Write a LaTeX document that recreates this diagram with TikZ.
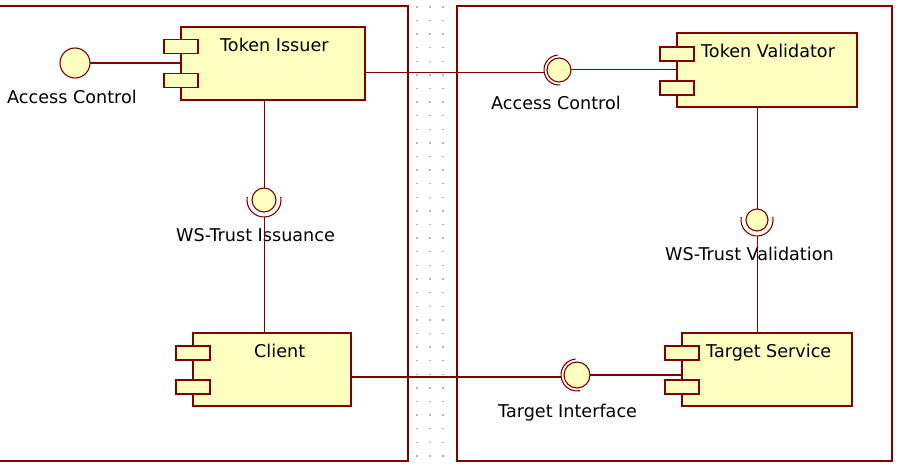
\documentclass[tikz,border=0pt]{standalone}
\usepackage{fontspec}
\setmainfont{DejaVu Sans}
\usetikzlibrary{calc}
\definecolor{umlred}{HTML}{800000}
\definecolor{umlfill}{HTML}{FFFFC0}
\definecolor{griddot}{HTML}{B4B4B4}
\begin{document}
\begin{tikzpicture}[x=1pt,y=-1pt,
  comp/.style={draw=umlred, fill=umlfill, line width=1.3pt, rectangle, inner sep=0pt, outer sep=0pt},
  port/.style={draw=umlred, fill=umlfill, line width=1.1pt, rectangle, minimum width=34pt, minimum height=14pt, inner sep=0pt},
  ball/.style={draw=umlred, fill=umlfill, line width=1.1pt, circle, inner sep=0pt, outer sep=0pt},
  lbl/.style={anchor=base west, inner sep=0pt, font=\fontsize{17.6}{20}\selectfont, text=black},
  conn/.style={draw=umlred, line width=1pt},
  thickconn/.style={draw=umlred, line width=2pt},
  sock/.style={draw=umlred, line width=1.1pt},
  frame/.style={draw=umlred, line width=1.2pt}]
\useasboundingbox (0,0) rectangle (898,468);
% grid dots between frames
\foreach \gx in {417,430,443}{
  \foreach \gy in {7,20.6,...,460}{
    \fill[griddot] (\gx-0.7,\gy-0.7) rectangle (\gx+0.7,\gy+0.7);
  }
}
% frames
\draw[frame] (0,6) -- (408,6) -- (408,461) -- (0,461);
\draw[frame, line width=1.6pt] (457,6) rectangle (892,461);
% components
\node[comp, minimum width=184pt, minimum height=73pt] (ti) at (273,63.5) {};
\node[comp, minimum width=180pt, minimum height=74pt] (tv) at (767,70) {};
\node[comp, minimum width=158pt, minimum height=73pt] (cl) at (272,369.5) {};
\node[comp, minimum width=170pt, minimum height=73pt] (ts) at (767,369.5) {};
\foreach \c/\a/\b in {ti/19.5/53.5, tv/21/55, cl/20/54, ts/20/54}{
  \node[port] (\c-p1) at ($(\c.north west)+(0,\a)$) {};
  \node[port] (\c-p2) at ($(\c.north west)+(0,\b)$) {};
}
\node[lbl] (ti-l) at (220,52) {Token Issuer};
\node[lbl] (tv-l) at (701,58) {Token Validator};
\node[lbl] (cl-l) at (254,357) {Client};
\node[lbl] (ts-l) at (706,357) {Target Service};
% interfaces
\node[ball, minimum size=30pt] (ac1) at (75,63) {};
\node[ball, minimum size=24pt] (ac2) at (559,70) {};
\node[ball, minimum size=24pt] (wsi) at (264,200) {};
\node[ball, minimum size=22pt] (wsv) at (757,220) {};
\node[ball, minimum size=26pt] (tif) at (577,375) {};
\node[lbl] (ac1-l) at (7,104) {Access Control};
\node[lbl] (ac2-l) at (491,110) {Access Control};
\node[lbl] (wsi-l) at (176,242) {WS-Trust Issuance};
\node[lbl] (wsv-l) at (665,261) {WS-Trust Validation};
\node[lbl] (tif-l) at (498,417) {Target Interface};
% sockets
\draw[sock] (wsi) ++(-10:17) arc[start angle=-10, end angle=190, radius=17];
\draw[sock] (wsv) ++(-10:16) arc[start angle=-10, end angle=190, radius=16];
\draw[sock] (ac2) ++(265:15) arc[start angle=265, end angle=85, radius=15];
\draw[sock] (tif) ++(265:16) arc[start angle=265, end angle=80, radius=16];
% connectors
\coordinate (ac2s) at (544,73);
\coordinate (wsis) at (264,217);
\coordinate (wsvs) at (757,236);
\coordinate (tifs) at (561,377);
\draw[thickconn] (ac1) -- (ac1 -| ti.west);
\draw[conn] (ti.east |- ac2s) -- (ac2s);
\draw[conn] (ac2) -- (ac2 -| tv.west);
\draw[conn] (wsi |- ti.south) -- (wsi.north);
\draw[conn] (wsis) -- (wsis |- cl.north);
\draw[conn] (wsv |- tv.south) -- (wsv.north);
\draw[conn] (wsvs) -- (wsvs |- ts.north);
\draw[thickconn] (cl.east |- tifs) -- (tifs);
\draw[thickconn] (tif) -- (tif -| ts.west);
\end{tikzpicture}
\end{document}
